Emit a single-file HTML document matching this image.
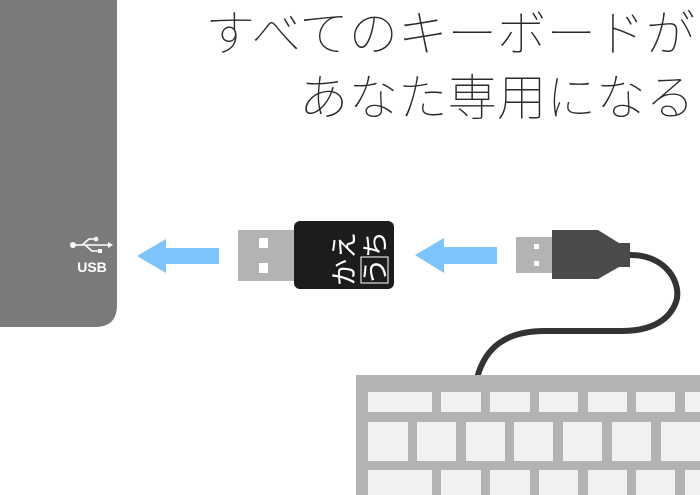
<!DOCTYPE html>
<html><head><meta charset="utf-8"><style>
html,body{margin:0;padding:0;background:#fff;width:700px;height:495px;overflow:hidden}
</style></head><body>
<svg width="700" height="495" viewBox="0 0 700 495" xmlns="http://www.w3.org/2000/svg">
<path d="M0,0 H117 V305 Q117,327 95,327 H0 Z" fill="#7b7b7b"/>
<g stroke="#fff" stroke-width="1.6" fill="none">
<circle cx="73" cy="245" r="3" fill="#fff" stroke="none"/>
<line x1="73" y1="245" x2="110" y2="245"/>
<path d="M82,245 L89,239 H95"/>
<path d="M85,245 L92,251 H99"/>
</g>
<circle cx="96" cy="239" r="2.3" fill="#fff"/>
<rect x="98" y="249" width="4" height="4" fill="#fff"/>
<path d="M108,242 L113,245 L108,248 Z" fill="#fff"/>
<text x="92" y="272" font-family="Liberation Sans, sans-serif" font-weight="bold" font-size="14" fill="#fff" text-anchor="middle">USB</text>
<path d="M137,256 L166,239 V248 H219 V264 H166 V273 Z" fill="#7cc4fb"/>
<path d="M415,255 L444,238 V247 H497 V264 H444 V273 Z" fill="#7cc4fb"/>
<rect x="238" y="230" width="58" height="51" fill="#b3b3b3"/>
<rect x="259" y="238" width="9" height="10" fill="#fff"/>
<rect x="259" y="263" width="9" height="10" fill="#fff"/>
<rect x="294" y="221" width="100" height="68" rx="6" fill="#1c1c1c"/>
<rect x="361" y="257" width="27" height="26" fill="none" stroke="#ddd" stroke-width="1.2"/>
<text transform="translate(354,286) rotate(-90)" font-family="Noto Sans CJK JP, sans-serif" font-size="27" fill="#fff">かえ</text>
<text transform="translate(385,285) rotate(-90)" font-family="Noto Sans CJK JP, sans-serif" font-size="27" fill="#fff">うち</text>
<rect x="516" y="237" width="37" height="36" fill="#b3b3b3"/>
<rect x="534" y="244" width="5" height="5" fill="#fff"/>
<rect x="534" y="261" width="5" height="5" fill="#fff"/>
<path d="M552,230 H598 L619,243 H630 V267 H619 L598,279 H552 Z" fill="#4b4b4b"/>
<path d="M630,255 C668,255 682,285 676,302 C668,324 645,331 622,331 L545,331 C505,331 485,348 477,378" fill="none" stroke="#333" stroke-width="6"/>
<rect x="356" y="375" width="344" height="120" fill="#b3b3b3"/>
<g fill="#f1f1f1">
<rect x="368" y="392" width="64" height="20"/>
<rect x="441" y="392" width="40" height="20"/>
<rect x="490" y="392" width="40" height="20"/>
<rect x="539" y="392" width="39" height="20"/>
<rect x="588" y="392" width="39" height="20"/>
<rect x="636" y="392" width="39" height="20"/>
<rect x="685" y="392" width="20" height="20"/>
<rect x="368" y="422" width="40" height="39"/>
<rect x="417" y="422" width="39" height="39"/>
<rect x="466" y="422" width="39" height="39"/>
<rect x="514" y="422" width="39" height="39"/>
<rect x="563" y="422" width="39" height="39"/>
<rect x="612" y="422" width="39" height="39"/>
<rect x="661" y="422" width="40" height="39"/>
<rect x="368" y="470" width="64" height="30"/>
<rect x="441" y="470" width="40" height="30"/>
<rect x="490" y="470" width="40" height="30"/>
<rect x="539" y="470" width="39" height="30"/>
<rect x="588" y="470" width="39" height="30"/>
<rect x="636" y="470" width="39" height="30"/>
<rect x="685" y="470" width="20" height="30"/>
</g>
<g font-family="Noto Sans CJK JP, sans-serif" font-size="49.5" font-weight="100" fill="#2a2a2a" text-anchor="end">
<text x="695" y="51">すべてのキーボードが</text>
<text x="695" y="115">あなた専用になる</text>
</g>
</svg>
</body></html>
